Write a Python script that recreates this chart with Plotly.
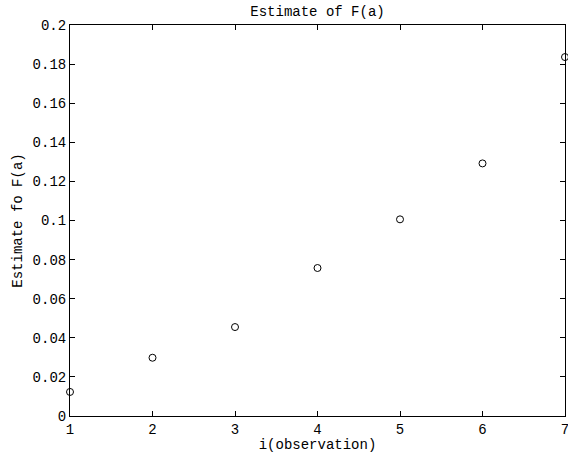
import plotly.graph_objects as go

obs = [1, 2, 3, 4, 5, 6, 7]
estimate = [0.0123, 0.0298, 0.0455, 0.0757, 0.1006, 0.1292, 0.1836]
y_ticks = [0, 0.02, 0.04, 0.06, 0.08, 0.1, 0.12, 0.14, 0.16, 0.18, 0.2]
y_tick_labels = ["0", "0.02", "0.04", "0.06", "0.08", "0.1", "0.12", "0.14", "0.16", "0.18", "0.2"]

font = "Liberation Mono, Courier New, monospace"

fig = go.Figure(go.Scatter(
    x=obs, y=estimate, mode="markers",
    marker=dict(symbol="circle-open", size=7, color="black", line=dict(width=1)),
    cliponaxis=False,
))

axis_common = dict(
    showgrid=False, zeroline=False, showline=True, linecolor="black", linewidth=1,
    mirror="ticks", ticks="inside", ticklen=5, tickcolor="black", tickwidth=1,
    tickfont=dict(family=font, size=14, color="black"),
    ticklabeloverflow="allow", automargin=False,
)

fig.update_layout(
    width=568, height=453,
    margin=dict(l=70, r=3, t=25, b=37, autoexpand=False),
    paper_bgcolor="white", plot_bgcolor="white",
    showlegend=False,
    title=dict(text="Estimate of F(a)", x=0.5, xanchor="center", y=0.975, yanchor="middle",
               xref="paper", font=dict(family=font, size=14, color="black")),
    xaxis=dict(range=[1, 7], tickvals=obs, title=dict(text="i(observation)", standoff=0,
               font=dict(family=font, size=14, color="black")), **axis_common),
    yaxis=dict(range=[0, 0.2], tickvals=y_ticks, ticktext=y_tick_labels,
               title=dict(text="Estimate fo F(a)", standoff=6,
               font=dict(family=font, size=14, color="black")), **axis_common),
)

fig.write_html("out.html")
